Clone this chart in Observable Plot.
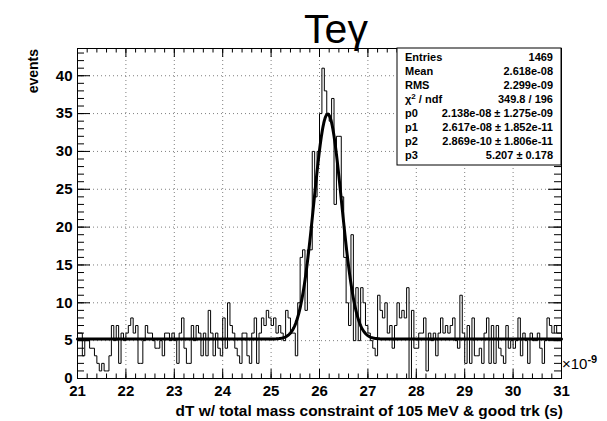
<!DOCTYPE html>
<html>
<head>
<meta charset="utf-8">
<script src="https://cdn.jsdelivr.net/npm/d3@7"></script>
<script src="https://cdn.jsdelivr.net/npm/@observablehq/plot@0.6"></script>
<style>
  html, body { margin: 0; padding: 0; background: #fff; }
  #chart { width: 607px; height: 421px; }
</style>
</head>
<body>
<div id="chart"></div>
<script>
// ---------------- data ----------------
const xMin = 21, xMax = 31, binWidth = 0.05;   // units of 1e-9 s
// bin contents, 20 bins per unit of x
const counts21 = [6,6,3,5,5,4,4,3,2,1,2,1,1,3,7,5,7,2,6,5];
const counts22 = [6,7,8,6,7,2,2,5,7,6,6,5,4,4,5,3,6,6,5,6];
const counts23 = [5,2,6,8,4,2,2,7,5,7,6,3,6,3,9,6,3,6,4,3];
const counts24 = [8,4,10,7,6,4,3,2,6,6,3,2,6,8,2,6,8,7,9,8];
const counts25 = [7,8,6,7,6,5,9,8,6,6,3,10,16,17,9,17,17,30,24,30];
const counts26 = [35,41,38,35,34,37,23,32,32,24,16,10,7,19,5,12,5,12,10,7];
const counts27 = [6,5,4,3,11,9,8,10,6,7,4,7,10,8,9,8,12,0,9,4];
const counts28 = [4,6,6,8,1,6,5,6,3,6,8,6,7,6,7,8,5,4,11,6];
const counts29 = [2,7,2,8,3,3,4,2,6,8,2,7,2,7,4,3,2,7,4,5];
const counts30 = [4,5,8,3,6,5,2,6,5,5,6,4,2,5,8,7,6,7,6,6];

// fit parameters (from the stats box)
const fitP0 = 2.138e-08, fitP1 = 2.617e-08, fitP2 = 2.869e-10, fitP3 = 5.207;

// axis ticks
const xTickValues = [21,22,23,24,25,26,27,28,29,30,31];
const yTickValues = [0,5,10,15,20,25,30,35,40];
const yMax = 43.6;

// stats box text
const statsLabels = ["Entries", "Mean", "RMS", "χ2 / ndf", "p0", "p1", "p2", "p3"];
const statsValues = ["1469", "2.618e-08", "2.299e-09", "349.8 / 196",
  "2.138e-08 ± 1.275e-09", "2.617e-08 ± 1.852e-11", "2.869e-10 ± 1.806e-11", "5.207 ± 0.178"];

const titleText = "Teγ";
const xTitle = "dT w/ total mass constraint of 105 MeV & good trk (s)";
const yTitle = "events";

// ---------------- derived tables ----------------
const counts = [].concat(counts21, counts22, counts23, counts24, counts25,
                         counts26, counts27, counts28, counts29, counts30);
const histPts = counts.map((c, i) => ({x: xMin + i * binWidth, y: c}));
histPts.push({x: xMax, y: counts[counts.length - 1]});

const fitPts = d3.range(0, 801).map(k => {
  const x = xMin + (xMax - xMin) * k / 800;
  const xs = x * 1e-9;
  const y = fitP3 + fitP0 / (Math.sqrt(2 * Math.PI) * fitP2) *
            Math.exp(-((xs - fitP1) ** 2) / (2 * fitP2 * fitP2));
  return {x, y};
});

const xMinor = d3.range(xMin, xMax + 1e-9, 0.2).map(v => +v.toFixed(2));
const yMinor = d3.range(0, 44, 1);

const W = 607, H = 421, mL = 77, mR = 46, mT = 48, mB = 43;
const innerW = W - mL - mR, innerH = H - mT - mB;

const font = "'Liberation Sans', Arial, Helvetica, sans-serif";

const plot = Plot.plot({
  width: W, height: H,
  marginLeft: mL, marginRight: mR, marginTop: mT, marginBottom: mB,
  style: {fontFamily: font, fontSize: "15px", fontWeight: "bold", background: "#fff", color: "#000"},
  x: {domain: [xMin, xMax], ticks: xTickValues, tickSize: 0, tickPadding: 7, tickFormat: d => String(d), label: null},
  y: {domain: [0, yMax], ticks: yTickValues, tickSize: 0, tickPadding: 5, tickFormat: d => String(d), label: null},
  marks: [
    // dotted grid
    Plot.ruleX(xTickValues.slice(1, -1), {x: d => d, stroke: "#000", strokeOpacity: 0.5, strokeDasharray: "1,3"}),
    Plot.ruleY(yTickValues.slice(1), {y: d => d, stroke: "#000", strokeOpacity: 0.5, strokeDasharray: "1,3"}),
    // histogram
    Plot.line(histPts, {x: "x", y: "y", curve: "step-after", stroke: "#000", strokeWidth: 1}),
    // fit
    Plot.line(fitPts, {x: "x", y: "y", stroke: "#000", strokeWidth: 3}),
    // ticks (inward, all four sides)
    Plot.tickX(xTickValues, {x: d => d, insetTop: innerH - 9, stroke: "#000"}),
    Plot.tickX(xMinor, {x: d => d, insetTop: innerH - 4.5, stroke: "#000"}),
    Plot.tickX(xTickValues, {x: d => d, insetBottom: innerH - 9, stroke: "#000"}),
    Plot.tickX(xMinor, {x: d => d, insetBottom: innerH - 4.5, stroke: "#000"}),
    Plot.tickY(yTickValues, {y: d => d, insetRight: innerW - 13, stroke: "#000"}),
    Plot.tickY(yMinor, {y: d => d, insetRight: innerW - 7, stroke: "#000"}),
    Plot.tickY(yTickValues, {y: d => d, insetLeft: innerW - 13, stroke: "#000"}),
    Plot.tickY(yMinor, {y: d => d, insetLeft: innerW - 7, stroke: "#000"}),
    Plot.frame({stroke: "#000"})
  ]
});

document.getElementById("chart").appendChild(plot);

const svg = d3.select(plot);

// title
svg.append("text")
  .attr("x", 336).attr("y", 43)
  .attr("text-anchor", "middle")
  .style("font-family", font).style("font-size", "41px").style("font-weight", "normal")
  .text(titleText);

// x axis title
svg.append("text")
  .attr("x", W - mR + 2).attr("y", 416)
  .attr("text-anchor", "end")
  .style("font-family", font).style("font-size", "15.4px").style("font-weight", "bold")
  .text(xTitle);

// y axis title
svg.append("text")
  .attr("transform", `translate(38,${mT + 1}) rotate(-90)`)
  .attr("text-anchor", "end")
  .style("font-family", font).style("font-size", "14px").style("font-weight", "bold")
  .text(yTitle);

// exponent label
const ex = svg.append("text")
  .attr("x", W - mR + 1).attr("y", 369)
  .attr("text-anchor", "start")
  .style("font-family", font).style("font-size", "15px").style("font-weight", "normal");
ex.append("tspan").text("×10");
ex.append("tspan").attr("dy", -6).style("font-size", "11px").style("font-weight", "bold").text("-9");

// stats box
const bx = 397, by = 48, bw = W - mR - bx, bh = 117;
const g = svg.append("g");
g.append("rect").attr("x", bx).attr("y", by).attr("width", bw).attr("height", bh)
  .attr("fill", "#fff").attr("stroke", "#000").attr("stroke-width", 1);
const rowH = 14.1, row0 = 60.5;
statsLabels.forEach((lab, i) => {
  const t = g.append("text")
    .attr("x", 405).attr("y", row0 + i * rowH)
    .attr("text-anchor", "start")
    .style("font-family", font).style("font-size", "11px").style("font-weight", "bold");
  if (lab.startsWith("χ2")) {
    t.append("tspan").text("χ");
    t.append("tspan").attr("dy", -4).style("font-size", "8px").text("2");
    t.append("tspan").attr("dy", 4).text(" / ndf");
  } else {
    t.text(lab);
  }
  g.append("text")
    .attr("x", 553).attr("y", row0 + i * rowH)
    .attr("text-anchor", "end")
    .style("font-family", font).style("font-size", "11px").style("font-weight", "bold")
    .text(statsValues[i]);
});
</script>
</body>
</html>
